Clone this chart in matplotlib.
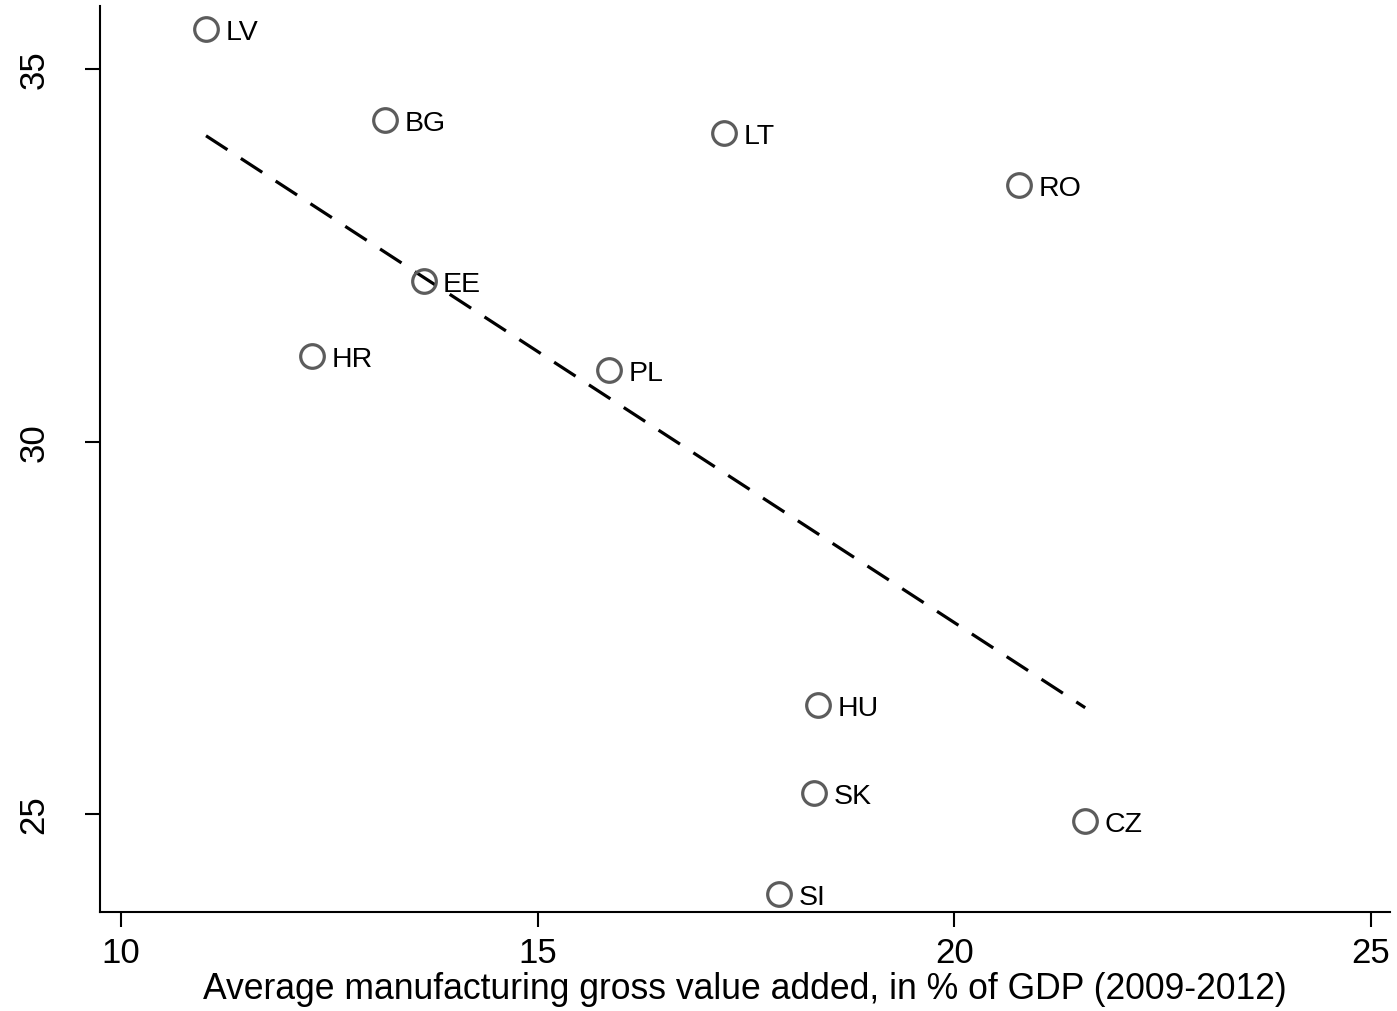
import numpy as np
import matplotlib
matplotlib.use("Agg")
import matplotlib.pyplot as plt

plt.rcParams['font.family'] = ['Liberation Sans', 'DejaVu Sans']

# country codes and values
countries = ['LV', 'BG', 'LT', 'RO', 'EE', 'HR', 'PL', 'HU', 'SK', 'CZ', 'SI']
manuf_gva = [11.02, 13.17, 17.24, 20.78, 13.63, 12.29, 15.86, 18.36, 18.32, 21.57, 17.90]
y_values = [35.54, 34.32, 34.14, 33.44, 32.15, 31.15, 30.96, 26.46, 25.28, 24.91, 23.93]

x_ticks = [10, 15, 20, 25]
y_ticks = [25, 30, 35]

fig = plt.figure(figsize=(13.97, 10.12), dpi=100)
ax = fig.add_axes([0.0716, 0.0978, 0.9234, 0.8952])

x = np.array(manuf_gva)
y = np.array(y_values)

# linear fit over observed range
slope, intercept = np.polyfit(x, y, 1)
xf = np.array([x.min(), x.max()])
ax.plot(xf, intercept + slope * xf, color='black', lw=2.3, ls=(0, (8, 5)), zorder=1)

ax.plot(x, y, 'o', ms=17, mfc='none', mec='#5c5c5c', mew=2.3, zorder=2)
for c, xi, yi in zip(countries, x, y):
    ax.annotate(c, (xi, yi), xytext=(14, -2), textcoords='offset points',
                fontsize=20.5, va='center', ha='left')

ax.set_xlim(9.748, 25.228)
ax.set_ylim(23.685, 35.846)
ax.set_xticks(x_ticks)
ax.set_yticks(y_ticks)
ax.tick_params(axis='both', direction='out', length=10.5, width=1.5, labelsize=25)
ax.tick_params(axis='x', pad=7)
ax.tick_params(axis='y', pad=25)
plt.setp(ax.get_yticklabels(), rotation=90, va='center')

for s in ['top', 'right']:
    ax.spines[s].set_visible(False)
for s in ['left', 'bottom']:
    ax.spines[s].set_linewidth(1.5)

ax.set_xlabel('Average manufacturing gross value added, in % of GDP (2009-2012)',
              fontsize=25.6, labelpad=1)

fig.savefig('out.png', dpi=100)
